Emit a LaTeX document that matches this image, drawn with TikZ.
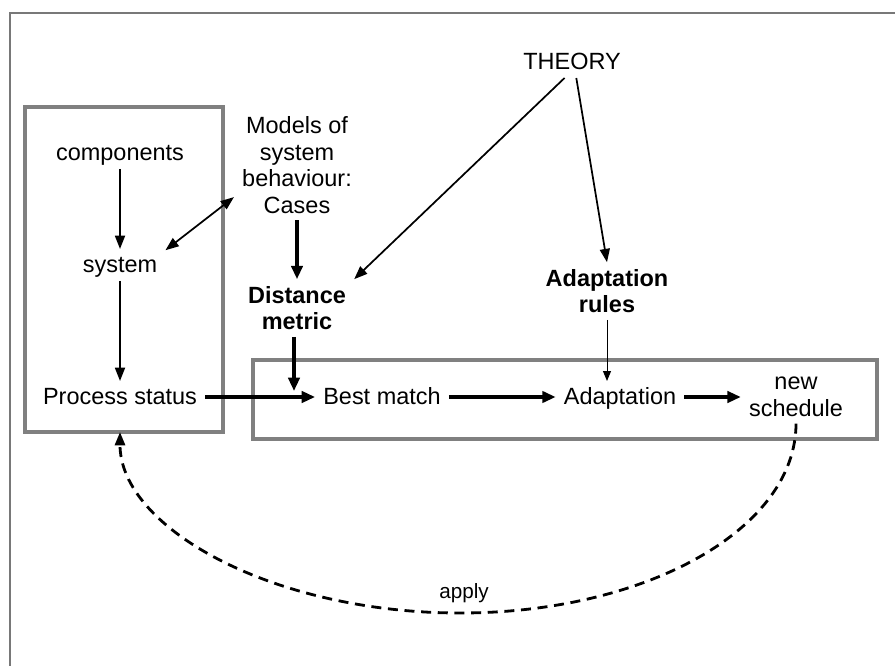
\documentclass[tikz,border=0pt]{standalone}
\usepackage{fontspec}
\setmainfont{Liberation Sans}
\usetikzlibrary{arrows.meta}
\definecolor{boxgray}{RGB}{128,128,128}
\definecolor{framegray}{RGB}{120,120,120}
\begin{document}
\begin{tikzpicture}[x=0.75pt,y=-0.75pt,
  lbl/.style={font=\fontsize{17.6}{19.9}\selectfont, inner xsep=6pt, inner ysep=5pt, align=center},
  rowlbl/.style={lbl, text height=12.6pt, text depth=1pt},
  boldlbl/.style={lbl, font=\fontsize{17.6}{19.9}\selectfont\bfseries},
  smalllbl/.style={font=\fontsize{15.5}{17}\selectfont, inner sep=2pt},
  groupbox/.style={draw=boxgray, line width=2.3pt},
  flow/.style={line width=2.4pt, -{Triangle[length=10pt,width=8.5pt]}},
  link/.style={line width=1.3pt, -{Triangle[length=10pt,width=7.5pt]}},
  twoway/.style={line width=1.3pt, {Triangle[length=10pt,width=7.5pt]}-{Triangle[length=10pt,width=7.5pt]}},
  thinlink/.style={line width=0.75pt, -{Triangle[length=7.5pt,width=6pt]}},
  feedback/.style={line width=2.1pt, dash pattern=on 7.5pt off 5pt, -{Triangle[length=10pt,width=7.5pt]}}
]
\useasboundingbox (0,0) rectangle (895,666);

% outer frame (left and top edges)
\draw[framegray, line width=1.5pt] (10,666) -- (10,13) -- (895,13);

% grouping boxes
\coordinate (lbnw) at (25,107);
\coordinate (lbse) at (223,432);
\coordinate (rbnw) at (253,360);
\coordinate (rbse) at (877,439);
\draw[groupbox] (lbnw) rectangle (lbse);
\draw[groupbox] (rbnw) rectangle (rbse);

% labels
\node[rowlbl] (comp)   at (120,153) {components};
\node[rowlbl] (sys)    at (120,265) {system};
\node[rowlbl] (ps)     at (120,397) {Process status};
\node[rowlbl] (bm)     at (382,397) {Best match};
\node[rowlbl] (adapt)  at (620,397) {Adaptation};
\node[lbl] (ns)     at (796,397) {new\\schedule};
\node[lbl] (models) at (297,165) {Models of\\system\\behaviour:\\Cases};
\node[boldlbl] (dm)    at (297,308) {Distance\\metric};
\node[boldlbl] (rules) at (607,291) {Adaptation\\rules};
\node[rowlbl] (theory) at (572,62) {THEORY};
\node[smalllbl] (apply) at (464,593) {apply};

% connectors
\draw[link] (comp) -- (sys);
\draw[link] (sys) -- (ps);
\draw[twoway] (sys.18) -- (models.207);
\draw[flow] (models) -- (dm);
\coordinate (merge) at (294,391);
\draw[flow] (dm.south -| merge) -- (merge);
\draw[flow] (ps) -- (bm);
\draw[flow] (bm) -- (adapt);
\draw[flow] (adapt) -- (ns);
\draw[link] (theory.245) -- (dm.north east);
\draw[link] (theory.285) -- (rules.north);
\draw[thinlink] (rules.south) -- (rules.south |- adapt.north);

% feedback loop
\coordinate (arcbot) at (460,613);
\coordinate (psin) at (ps.south |- lbse);
\draw[feedback] (ns.south) .. controls +(0,105) and +(187,0) .. (arcbot)
  .. controls +(-187,0) and +(0,96) .. (psin);
\end{tikzpicture}
\end{document}
